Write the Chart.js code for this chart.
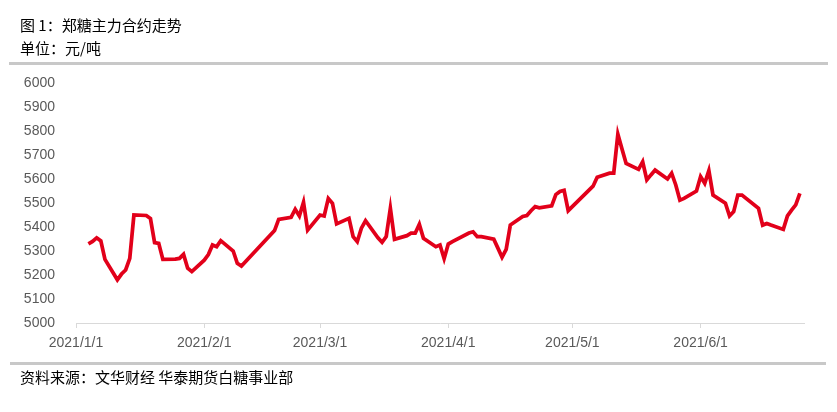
<!DOCTYPE html>
<html>
<head>
<meta charset="utf-8">
<script src="https://cdn.jsdelivr.net/npm/chart.js@4"></script>
<style>
  body { margin: 0; background: #fff; }
  #wrap { position: relative; width: 837px; height: 412px; overflow: hidden; }
  #chart { position: absolute; left: 0; top: 0; }
  .txt { position: absolute; font-family: "Noto Sans CJK SC", sans-serif; font-size: 15px; color: #000; white-space: pre; line-height: 1; }
  .bar { position: absolute; height: 3px; background: #c8c8c8; }
</style>
</head>
<body>
<div id="wrap">
  <canvas id="chart" width="837" height="412"></canvas>
  <div class="txt" style="left:20px; top:17px;">图 1：郑糖主力合约走势</div>
  <div class="txt" style="left:20px; top:40px;">单位：元/吨</div>
  <div class="bar" style="left:9px; top:62px; width:819px;"></div>
  <div class="bar" style="left:10px; top:362px; width:816px;"></div>
  <div class="txt" style="left:20px; top:369px;">资料来源：文华财经 华泰期货白糖事业部</div>
</div>
<script>
// 郑糖主力合约收盘价（元/吨）
const dates = [
  "2021/1/4", "2021/1/5", "2021/1/6", "2021/1/7", "2021/1/8",
  "2021/1/11", "2021/1/12", "2021/1/13", "2021/1/14", "2021/1/15",
  "2021/1/18", "2021/1/19", "2021/1/20", "2021/1/21", "2021/1/22",
  "2021/1/25", "2021/1/26", "2021/1/27", "2021/1/28", "2021/1/29",
  "2021/2/1", "2021/2/2", "2021/2/3", "2021/2/4", "2021/2/5",
  "2021/2/8", "2021/2/9", "2021/2/10",
  "2021/2/18", "2021/2/19",
  "2021/2/22", "2021/2/23", "2021/2/24", "2021/2/25", "2021/2/26",
  "2021/3/1", "2021/3/2", "2021/3/3", "2021/3/4", "2021/3/5",
  "2021/3/8", "2021/3/9", "2021/3/10", "2021/3/11", "2021/3/12",
  "2021/3/15", "2021/3/16", "2021/3/17", "2021/3/18", "2021/3/19",
  "2021/3/22", "2021/3/23", "2021/3/24", "2021/3/25", "2021/3/26",
  "2021/3/29", "2021/3/30", "2021/3/31", "2021/4/1", "2021/4/2",
  "2021/4/6", "2021/4/7", "2021/4/8", "2021/4/9",
  "2021/4/12", "2021/4/13", "2021/4/14", "2021/4/15", "2021/4/16",
  "2021/4/19", "2021/4/20", "2021/4/21", "2021/4/22", "2021/4/23",
  "2021/4/26", "2021/4/27", "2021/4/28", "2021/4/29", "2021/4/30",
  "2021/5/6", "2021/5/7",
  "2021/5/10", "2021/5/11", "2021/5/12", "2021/5/13", "2021/5/14",
  "2021/5/17", "2021/5/18", "2021/5/19", "2021/5/20", "2021/5/21",
  "2021/5/24", "2021/5/25", "2021/5/26", "2021/5/27", "2021/5/28",
  "2021/5/31", "2021/6/1", "2021/6/2", "2021/6/3", "2021/6/4",
  "2021/6/7", "2021/6/8", "2021/6/9", "2021/6/10", "2021/6/11",
  "2021/6/15", "2021/6/16", "2021/6/17", "2021/6/18",
  "2021/6/21", "2021/6/22", "2021/6/23", "2021/6/24", "2021/6/25"
];
const prices = [
  5330, 5340, 5355, 5342, 5265,
  5180, 5204, 5221, 5269, 5450,
  5448, 5435, 5335, 5332, 5265,
  5266, 5269, 5286, 5228, 5214,
  5262, 5285, 5325, 5318, 5343,
  5300, 5249, 5237,
  5385, 5432,
  5440, 5474, 5446, 5503, 5387,
  5450, 5446, 5519, 5499, 5413,
  5436, 5360, 5339, 5395, 5426,
  5355, 5336, 5360, 5478, 5349,
  5364, 5374, 5374, 5411, 5353,
  5318, 5325, 5268, 5329, 5339,
  5375, 5380, 5360, 5360,
  5349, 5312, 5274, 5307, 5408,
  5444, 5448, 5468, 5485, 5480,
  5488, 5535, 5548, 5553, 5468,
  5570, 5607,
  5624, 5624, 5787, 5725, 5665,
  5640, 5672, 5596, 5617, 5637,
  5600, 5624, 5575, 5512, 5519,
  5550, 5610, 5582, 5635, 5533,
  5499, 5446, 5464, 5533, 5533,
  5478, 5408, 5415, 5408,
  5390, 5446, 5470, 5492, 5540
];
const monthTicks = ["2021/1/1", "2021/2/1", "2021/3/1", "2021/4/1", "2021/5/1", "2021/6/1"];
const axisEnd = "2021/6/26";

// days since 2021/1/1
function dayOf(s) {
  const [y, m, d] = s.split("/").map(Number);
  return (Date.UTC(y, m - 1, d) - Date.UTC(2021, 0, 1)) / 86400000;
}

const points = dates.map((d, i) => ({ x: dayOf(d), y: prices[i] }));
const tickFont = { family: "'Liberation Sans', Arial, sans-serif", size: 14 };

new Chart(document.getElementById("chart"), {
  type: "line",
  data: {
    datasets: [{
      data: points,
      borderColor: "#e2001a",
      borderWidth: 3.75,
      pointRadius: 0,
      tension: 0,
      fill: false
    }]
  },
  options: {
    responsive: false,
    animation: false,
    events: [],
    layout: { padding: { left: 0, right: 33, top: 83, bottom: 0 } },
    plugins: { legend: { display: false }, tooltip: { enabled: false } },
    scales: {
      x: {
        type: "linear",
        min: 0,
        max: dayOf(axisEnd),
        afterBuildTicks: (scale) => {
          scale.ticks = monthTicks.map((d) => ({ value: dayOf(d) }));
        },
        afterFit: (scale) => { scale.height = 89; },
        ticks: {
          autoSkip: false,
          maxRotation: 0,
          padding: 7,
          color: "#595959",
          font: tickFont,
          callback: (v, i) => monthTicks[i]
        },
        grid: { drawOnChartArea: false, tickLength: 5, color: "#d9d9d9" },
        border: { color: "#d9d9d9", width: 1 }
      },
      y: {
        min: 5000,
        max: 6000,
        afterFit: (scale) => { scale.width = 76; },
        ticks: { stepSize: 100, padding: 13, color: "#595959", font: tickFont, callback: (v) => String(v) },
        grid: { display: false },
        border: { display: false }
      }
    }
  }
});
</script>
</body>
</html>
